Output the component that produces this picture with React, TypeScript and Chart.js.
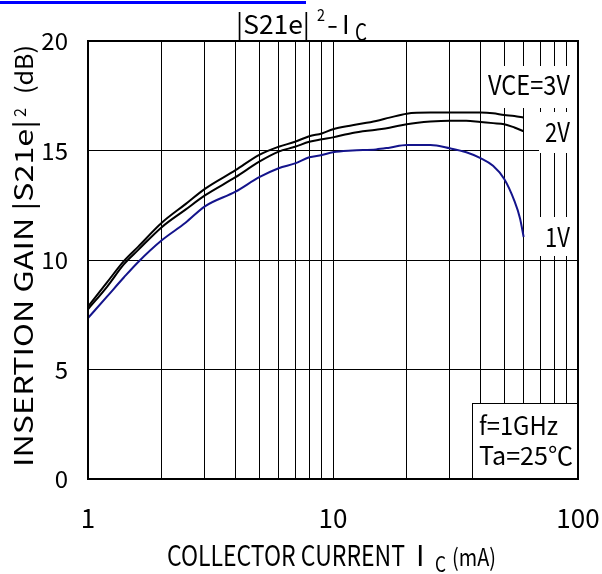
import React, { useEffect, useRef } from 'react';
import { Chart, registerables } from 'chart.js';

Chart.register(...registerables);

// ---- data ----
const currents = [1, 1.2, 1.4, 1.6, 2, 2.5, 3, 4, 5, 6, 7, 8, 9, 10, 12, 15, 17, 20, 25, 30, 35, 40, 45, 50, 55, 60];
const gain3V = [7.87, 9.0, 9.95, 10.6, 11.7, 12.55, 13.25, 14.1, 14.8, 15.17, 15.4, 15.65, 15.78, 15.97, 16.15, 16.35, 16.5, 16.68, 16.73, 16.73, 16.73, 16.73, 16.7, 16.62, 16.58, 16.5];
const gain2V = [7.75, 8.8, 9.8, 10.45, 11.5, 12.3, 12.95, 13.78, 14.49, 14.95, 15.17, 15.4, 15.51, 15.6, 15.8, 15.95, 16.04, 16.2, 16.32, 16.36, 16.36, 16.3, 16.25, 16.2, 16.05, 15.88];
const currents1V = [1, 1.2, 1.4, 1.6, 2, 2.5, 3, 4, 5, 6, 7, 8, 9, 10, 12, 15, 17, 20, 25, 30, 35, 40, 45, 50, 55, 58, 60];
const gain1V = [7.35, 8.35, 9.2, 9.9, 10.9, 11.7, 12.45, 13.12, 13.78, 14.19, 14.41, 14.69, 14.79, 14.92, 15.0, 15.05, 15.13, 15.25, 15.25, 15.1, 14.92, 14.65, 14.3, 13.7, 12.7, 11.9, 11.05];

const xGridValues = [1, 2, 3, 4, 5, 6, 7, 8, 9, 10, 20, 30, 40, 50, 60, 70, 80, 90, 100];
const xTickLabels = [1, 10, 100];
const yMin = 0;
const yMax = 20;
const yStep = 5;
const seriesLabels = ['VCE=3V', '2V', '1V'];
const conditionLabels = ['f=1GHz', 'Ta=25\u2103'];

const FONT = "'Noto Sans CJK JP', sans-serif";

// draw text squeezed/stretched horizontally to a given width
function fitText(ctx: CanvasRenderingContext2D, text: string, x: number, y: number, size: number, width?: number) {
  ctx.font = `${size}px ${FONT}`;
  const w = ctx.measureText(text).width;
  ctx.save();
  ctx.translate(x, y);
  if (width) ctx.scale(width / w, 1);
  ctx.fillText(text, 0, 0);
  ctx.restore();
}

const decorPlugin = {
  id: 'decor',
  afterDatasetsDraw(chart: any) {
    const ctx = chart.ctx as CanvasRenderingContext2D;
    const a = chart.chartArea;
    ctx.save();
    ctx.fillStyle = '#fff';
    // white label backgrounds
    ctx.fillRect(a.right - 92, a.top + 25, 91, 42);
    ctx.fillRect(a.right - 39, a.top + 71, 38, 41);
    ctx.fillRect(a.right - 39, a.top + 176, 38, 39);
    // condition box
    ctx.fillRect(a.right - 106, a.bottom - 76, 106, 76);
    ctx.strokeStyle = '#000';
    ctx.lineWidth = 1;
    ctx.strokeRect(a.right - 105.5, a.bottom - 75.5, 106, 76);

    ctx.fillStyle = '#000';
    ctx.textBaseline = 'alphabetic';
    ctx.textAlign = 'left';
    fitText(ctx, seriesLabels[0], a.right - 90, a.top + 54, 27, 82);
    fitText(ctx, seriesLabels[1], a.right - 33, a.top + 101, 27, 25);
    fitText(ctx, seriesLabels[2], a.right - 33, a.top + 206, 27, 25);
    fitText(ctx, conditionLabels[0], a.right - 99, a.bottom - 44, 25, 79);
    fitText(ctx, conditionLabels[1], a.right - 99, a.bottom - 14, 25, 94);

    // frame
    ctx.lineWidth = 2;
    ctx.strokeRect(a.left, a.top, a.right - a.left, a.bottom - a.top);
    ctx.restore();
  },
  afterDraw(chart: any) {
    const ctx = chart.ctx as CanvasRenderingContext2D;
    ctx.save();
    // blue rule at the very top
    ctx.fillStyle = '#0000ff';
    ctx.fillRect(0, 1, 306, 3);

    ctx.fillStyle = '#000';
    ctx.textBaseline = 'alphabetic';
    ctx.textAlign = 'left';

    // chart title |S21e|^2 - I_C
    fitText(ctx, '|S21e|', 236, 34, 26, 74);
    fitText(ctx, '2', 317, 21, 17, 8);
    fitText(ctx, '-', 327, 34, 26, 11);
    fitText(ctx, 'I', 342, 34, 26);
    fitText(ctx, 'C', 355, 41, 24, 12);

    // x axis title
    fitText(ctx, 'COLLECTOR CURRENT', 167, 566, 29, 238);
    fitText(ctx, 'I', 416, 566, 29);
    fitText(ctx, 'C', 435, 572, 22, 11);
    fitText(ctx, '(mA)', 452, 566, 24, 44);

    // y axis title (rotated)
    ctx.save();
    ctx.translate(24, 0);
    ctx.rotate(-Math.PI / 2);
    fitText(ctx, 'INSERTION GAIN |S21e|', -467, 9, 25, 347);
    fitText(ctx, '2', -117, 2, 16, 9);
    fitText(ctx, '(dB)', -94, 9, 24, 49);
    ctx.restore();
    ctx.restore();
  },
};

export default function App() {
  const ref = useRef<HTMLCanvasElement | null>(null);
  useEffect(() => {
    document.body.style.margin = '0';
    const canvas = ref.current;
    if (!canvas) return;
    const toPts = (xs: number[], ys: number[]) => xs.map((v, i) => ({ x: v, y: ys[i] }));
    const chart = new Chart(canvas, {
      type: 'line',
      data: {
        datasets: [
          { label: seriesLabels[0], data: toPts(currents, gain3V), borderColor: '#000', borderWidth: 2, pointRadius: 0, cubicInterpolationMode: 'monotone' },
          { label: seriesLabels[1], data: toPts(currents, gain2V), borderColor: '#000', borderWidth: 2, pointRadius: 0, cubicInterpolationMode: 'monotone' },
          { label: seriesLabels[2], data: toPts(currents1V, gain1V), borderColor: '#14148c', borderWidth: 2, pointRadius: 0, cubicInterpolationMode: 'monotone' },
        ],
      },
      options: {
        animation: false,
        responsive: false,
        devicePixelRatio: 1,
        layout: { padding: { top: 41, right: 24, left: 0, bottom: 0 } },
        plugins: { legend: { display: false }, tooltip: { enabled: false }, title: { display: false } },
        scales: {
          x: {
            type: 'logarithmic',
            min: 1,
            max: 100,
            afterBuildTicks: (s: any) => {
              s.ticks = xGridValues.map((v) => ({ value: v }));
            },
            afterFit: (s: any) => {
              s.height = 95;
              s.paddingLeft = 0;
              s.paddingRight = 0;
            },
            ticks: {
              autoSkip: false,
              maxRotation: 0,
              minRotation: 0,
              padding: 24,
              color: '#000',
              font: { family: FONT, size: 26 },
              callback: (v: any) => (xTickLabels.includes(Number(v)) ? String(v) : ''),
            },
            grid: { color: '#000', lineWidth: 1, drawTicks: false },
            border: { color: '#000', width: 2 },
          },
          y: {
            min: yMin,
            max: yMax,
            afterFit: (s: any) => {
              s.width = 88;
              s.paddingTop = 0;
              s.paddingBottom = 0;
            },
            ticks: { stepSize: yStep, padding: 20, color: '#000', font: { family: FONT, size: 24 } },
            grid: { color: '#000', lineWidth: 1, drawTicks: false },
            border: { color: '#000', width: 2 },
          },
        },
      },
      plugins: [decorPlugin],
    } as any);
    return () => chart.destroy();
  }, []);
  return (
    <div style={{ width: 602, height: 574 }}>
      <canvas ref={ref} width={602} height={574} style={{ display: 'block' }} />
    </div>
  );
}
